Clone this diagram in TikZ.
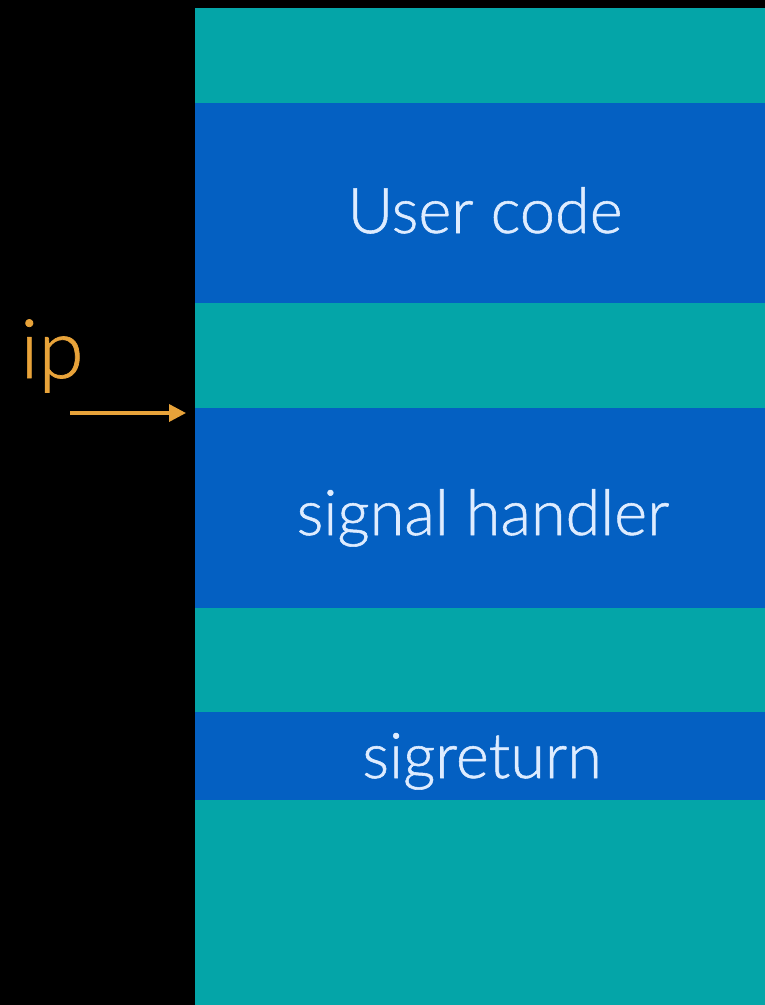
\documentclass[tikz,border=0pt]{standalone}
\usepackage{fontspec}
\setmainfont{Lato}[UprightFont={* Light}, FakeBold=0.8]
\newfontfamily\lblfont{Lato Light}[FakeBold=0.9]
\usetikzlibrary{arrows.meta}
\definecolor{bandteal}{RGB}{4,165,168}
\definecolor{bandblue}{RGB}{4,96,194}
\definecolor{labeltext}{RGB}{222,236,255}
\definecolor{ipcol}{RGB}{232,163,58}
\tikzset{
  band/.style={fill=#1, draw=none, inner sep=0pt, outer sep=0pt},
  lbl/.style={text=labeltext, font=\lblfont\fontsize{63}{70}\selectfont, anchor=base, inner sep=0pt},
}
\begin{document}
\begin{tikzpicture}[x=1pt, y=-1pt]
  \fill[black] (0,0) rectangle (765,1005);
  \useasboundingbox (0,0) rectangle (765,1005);
  % memory column: alternating teal gaps and blue code regions
  \fill[band=bandteal] (195,8) rectangle (765,103);
  \fill[band=bandblue] (195,103) rectangle (765,303);
  \fill[band=bandteal] (195,303) rectangle (765,408);
  \fill[band=bandblue] (195,408) rectangle (765,608);
  \fill[band=bandteal] (195,608) rectangle (765,712);
  \fill[band=bandblue] (195,712) rectangle (765,800);
  \fill[band=bandteal] (195,800) rectangle (765,1005);
  \coordinate (handlertop) at (186,413);
  % region labels
  \node[lbl] (user) at (485,233) {User code};
  \node[lbl] (handler) at (483,535) {signal handler};
  \node[lbl] (sigret) at (482,778) {sigreturn};
  % instruction pointer
  \node[text=ipcol, font=\lblfont\fontsize{82}{90}\selectfont, anchor=base west, inner sep=0pt] (ip) at (20,378) {ip};
  \coordinate (iptail) at (70,413);
  \draw[ipcol, line width=3.5pt, -{Triangle[length=17pt,width=17pt]}] (iptail) -- (handlertop);
\end{tikzpicture}
\end{document}
